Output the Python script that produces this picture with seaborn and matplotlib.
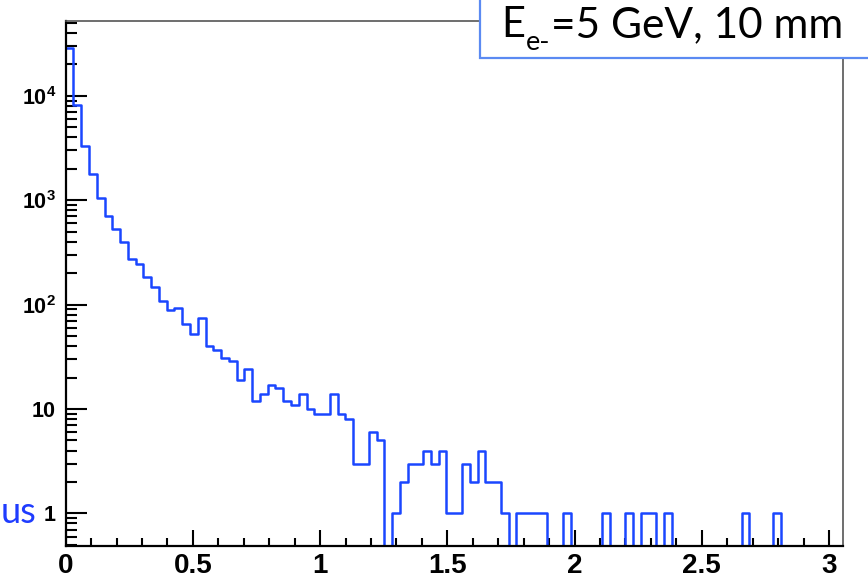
import numpy as np
import pandas as pd
import matplotlib
matplotlib.use("Agg")
import matplotlib.pyplot as plt
import seaborn as sns
from matplotlib.ticker import FixedLocator, MultipleLocator, LogLocator, NullFormatter
from matplotlib.patches import Rectangle

# ---------------- data ----------------
x_min, x_max = 0.0, 3.054
n_bins = 100
counts = [28400, 8150, 3300, 1780, 1055, 705, 525, 400, 275, 243,
          185, 148, 109, 89, 92, 65, 52, 74, 40, 37,
          31, 29, 19, 24, 12, 14, 17, 16, 12, 11,
          14, 10, 9, 9, 14, 9, 8, 3, 3, 6,
          5, 0, 1, 2, 3, 3, 4, 3, 4, 1,
          1, 3, 2, 4, 2, 2, 1, 0, 1, 1,
          1, 1, 0, 0, 1, 0, 0, 0, 0, 1,
          0, 0, 1, 0, 1, 1, 0, 1, 0, 0,
          0, 0, 0, 0, 0, 0, 0, 1, 0, 0,
          0, 1, 0, 0, 0, 0, 0, 0, 0, 0]
x_ticks = [0, 0.5, 1, 1.5, 2, 2.5, 3]
x_tick_labels = ["0", "0.5", "1", "1.5", "2", "2.5", "3"]
y_ticks = [1, 10, 100, 1000, 10000]
y_tick_labels = ["1", "10", r"$\mathregular{10^{2}}$", r"$\mathregular{10^{3}}$", r"$\mathregular{10^{4}}$"]
y_lim = (0.49, 52000)
box_main = "E"
box_sub = "e-"
box_rest = "=5 GeV, 10 mm"
side_text = "us"

# ---------------- figure ----------------
W, H = 868, 579
fig = plt.figure(figsize=(W / 100, H / 100), dpi=100)
fig.patch.set_facecolor("white")
ax = fig.add_axes([65.7 / W, (H - 545.7) / H, 777 / W, 524.7 / H])
ax.set_facecolor("white")

edges = np.linspace(x_min, x_max, n_bins + 1)
centers = 0.5 * (edges[:-1] + edges[1:])
df = pd.DataFrame({"x": centers, "w": counts})

line_color = "#1a46ff"
sns.histplot(data=df, x="x", weights="w", bins=n_bins, binrange=(x_min, x_max),
             element="step", fill=False, color=line_color, linewidth=1.8, ax=ax)

ax.set_yscale("log")
ax.set_xlim(x_min, x_max)
ax.set_ylim(*y_lim)
ax.set_xlabel("")
ax.set_ylabel("")

ax.xaxis.set_major_locator(FixedLocator(x_ticks))
ax.set_xticklabels(x_tick_labels)
ax.xaxis.set_minor_locator(MultipleLocator(0.1))
ax.yaxis.set_major_locator(FixedLocator(y_ticks))
ax.set_yticklabels(y_tick_labels)
ax.yaxis.set_minor_locator(LogLocator(base=10, subs=np.arange(2, 10)))
ax.yaxis.set_minor_formatter(NullFormatter())

ax.tick_params(axis="both", which="both", direction="in", top=False, right=False,
               color="black", width=1.5)
ax.tick_params(axis="y", which="major", length=15, pad=7)
ax.tick_params(axis="y", which="minor", length=8)
ax.tick_params(axis="x", which="major", length=11.5, pad=5)
ax.tick_params(axis="x", which="minor", length=5.8)

for lab in ax.get_xticklabels():
    lab.set_fontfamily("Liberation Sans")
    lab.set_fontweight("bold")
    lab.set_fontsize(20)
for lab in ax.get_yticklabels():
    lab.set_fontfamily("Liberation Sans")
    lab.set_fontweight("bold")
    lab.set_fontsize(15.5)

for s in ["left", "bottom"]:
    ax.spines[s].set_color("black")
    ax.spines[s].set_linewidth(1.6)
for s in ["top", "right"]:
    ax.spines[s].set_color("#555555")
    ax.spines[s].set_linewidth(1.2)

# text box in the top-right corner
rect = Rectangle((480 / W, (H - 58) / H), 1.0, 1.0, transform=fig.transFigure,
                 facecolor="white", edgecolor="#5b8af2", linewidth=1.6, zorder=5)
fig.add_artist(rect)

renderer = fig.canvas.get_renderer()
base_px = H - 37
t1 = fig.text(501 / W, base_px / H, box_main, fontfamily="Lato", fontsize=30,
              color="black", ha="left", va="baseline", zorder=6)
bb1 = t1.get_window_extent(renderer)
t2 = fig.text((bb1.x1 + 1) / W, (base_px - 13) / H, box_sub, fontfamily="Lato", fontsize=19.5,
              color="black", ha="left", va="baseline", zorder=6)
bb2 = t2.get_window_extent(renderer)
t3 = fig.text((bb2.x1 + 1) / W, base_px / H, box_rest, fontfamily="Lato", fontsize=30.5,
              color="black", ha="left", va="baseline", zorder=6)

# cut-off blue text at the left
fig.text(1 / W, (H - 523) / H, side_text, fontfamily="Lato", fontsize=26,
         color="#1f3cff", ha="left", va="baseline")

fig.savefig("out.png", dpi=100)
